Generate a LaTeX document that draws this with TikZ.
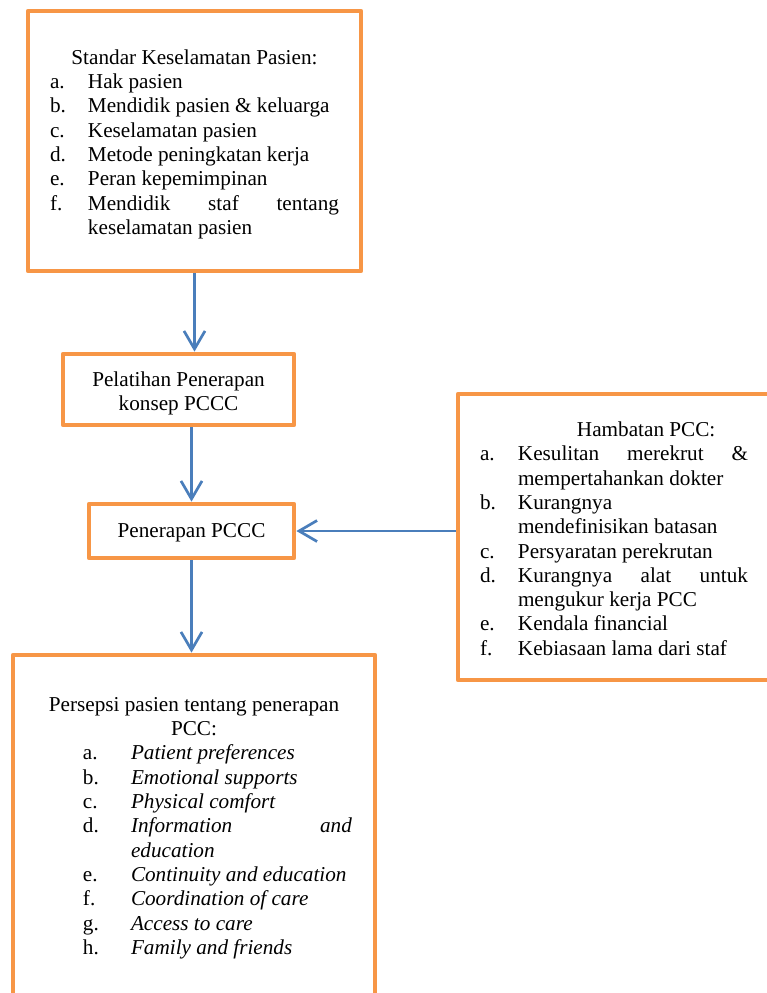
\documentclass[tikz,border=0pt]{standalone}
\usepackage{fontspec}
\setmainfont{Liberation Serif}
\usetikzlibrary{arrows.meta}
\definecolor{boxorange}{HTML}{F79646}
\definecolor{arrowblue}{HTML}{4A7EBB}
\newcommand{\sline}[1]{\makebox[\linewidth][s]{#1}}
\newcommand{\dropby}[2]{\raisebox{-#1}[\height][\depth]{#2}}

\begin{document}
\begin{tikzpicture}[x=0.5pt,y=-0.5pt,
   every node/.style={font=\fontsize{10.6}{12.15}\selectfont},
   box/.style={draw=boxorange,line width=2.4pt,line join=round,shape=rectangle,inner sep=0pt},
   flow/.style={draw=arrowblue,line width=1.35pt,-{Straight Barb[length=9pt,width=10.5pt]}}]
   \useasboundingbox (0,0) rectangle (767,993);

   \path (194.5,141) node[box,minimum width=166.5pt,minimum height=130pt] (SKP)
   {\dropby{1.75pt}{%
     \begin{tabular}{@{}p{19pt}@{}p{125.5pt}@{}}
     \multicolumn{2}{@{}c@{}}{Standar Keselamatan Pasien:}\\
     a. & Hak pasien\\
     b. & Mendidik pasien \& keluarga\\
     c. & Keselamatan pasien\\
     d. & Metode peningkatan kerja\\
     e. & Peran kepemimpinan\\
     f. & \sline{Mendidik staf tentang}\newline keselamatan pasien
     \end{tabular}}
   };
   \path (178.5,389.5) node[box,minimum width=115.5pt,minimum height=35.5pt] (PPK)
   {\dropby{2pt}{\begin{tabular}{@{}c@{}}Pelatihan Penerapan\\konsep PCCC\end{tabular}}};
   \path (191.5,531) node[box,minimum width=102.5pt,minimum height=27pt] (PP)
   {\dropby{1pt}{Penerapan PCCC}};
   \path (619,537) node[box,minimum width=161pt,minimum height=143pt] (HP)
   {\dropby{2pt}{%
     \begin{tabular}{@{}p{19pt}@{}p{115pt}@{\hspace{5pt}}}
     \multicolumn{2}{@{}l@{}}{\hspace{48.5pt}Hambatan PCC:}\\
     a. & \sline{Kesulitan merekrut \&}\newline mempertahankan dokter\\
     b. & Kurangnya\newline mendefinisikan batasan\\
     c. & Persyaratan perekrutan\\
     d. & \sline{Kurangnya alat untuk}\newline mengukur kerja PCC\\
     e. & Kendala financial\\
     f. & Kebiasaan lama dari staf
     \end{tabular}}
   };
   \path (194,828) node[box,minimum width=181pt,minimum height=173pt] (PSP)
   {
     \begin{tabular}{@{}p{23.5pt}@{}p{24pt}@{}p{110.5pt}@{}}
     \multicolumn{3}{@{}c@{}}{Persepsi pasien tentang penerapan}\\
     \multicolumn{3}{@{}c@{}}{PCC:}\\
     & a. & \textit{Patient preferences}\\
     & b. & \textit{Emotional supports}\\
     & c. & \textit{Physical comfort}\\
     & d. & \sline{\textit{Information and}}\newline \textit{education}\\
     & e. & \textit{Continuity and education}\\
     & f. & \textit{Coordination of care}\\
     & g. & \textit{Access to care}\\
     & h. & \textit{Family and friends}
     \end{tabular}
   };

   % connectors
   \draw[flow] (SKP.south) -- (SKP.south |- PPK.north);
   \draw[flow] (PP.north |- PPK.south) -- (PP.north);
   \draw[flow] (PP.south) -- (PP.south |- PSP.north);
   \draw[flow] (HP.west |- PP.east) -- (PP.east);
\end{tikzpicture}
\end{document}
